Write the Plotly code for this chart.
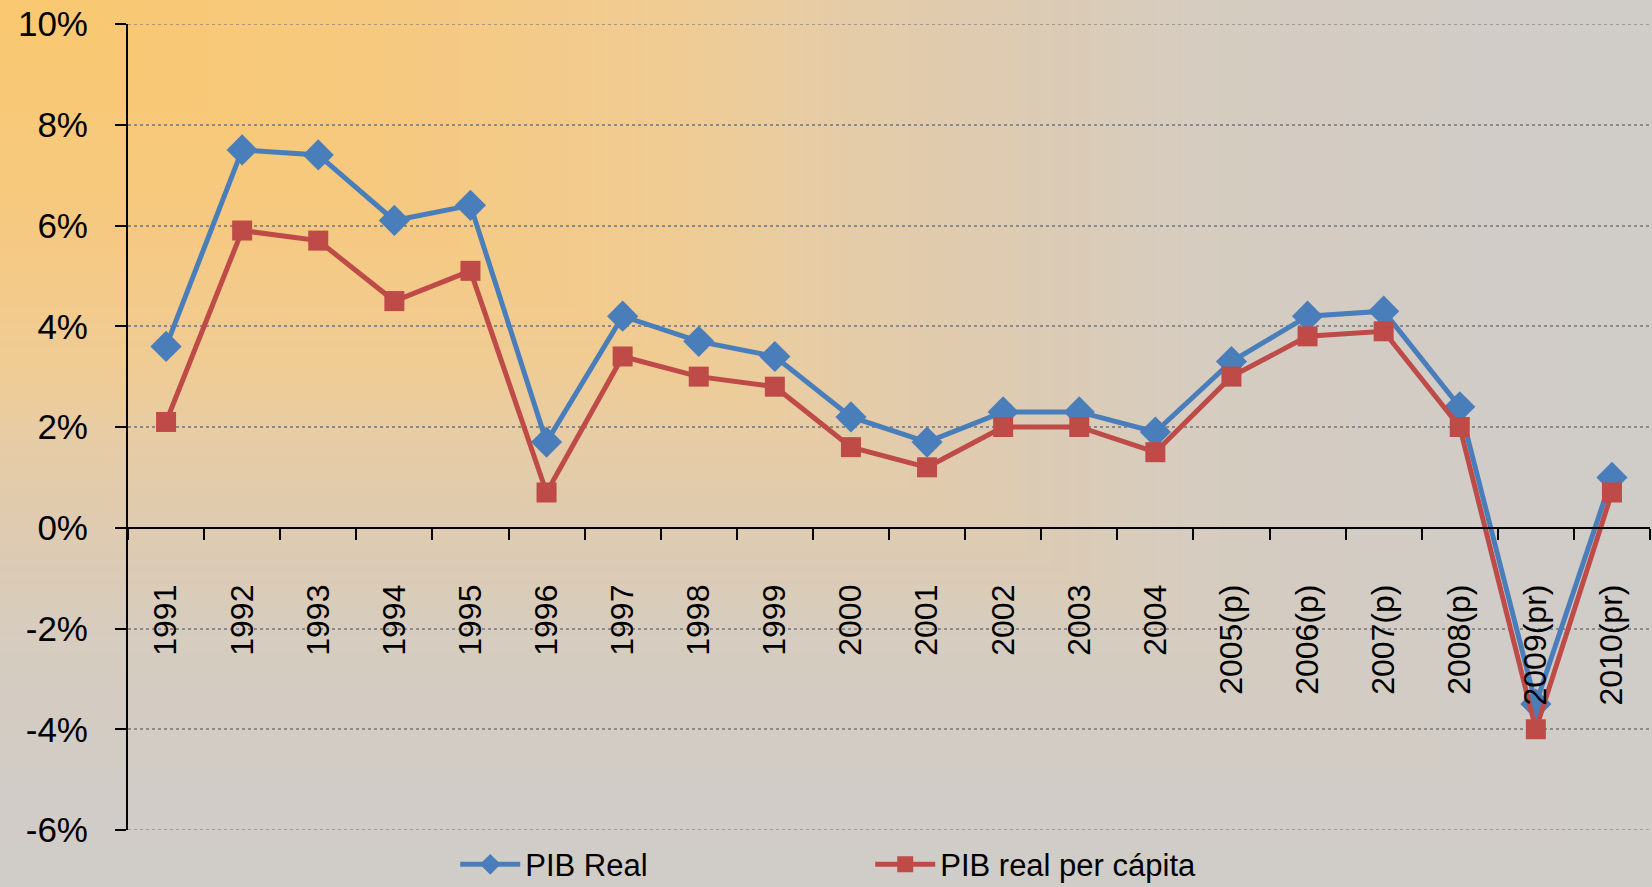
import base64
import struct
import zlib

import numpy as np
import plotly.graph_objects as go

# ---------------- data ----------------
years = ["1991", "1992", "1993", "1994", "1995", "1996", "1997", "1998", "1999",
         "2000", "2001", "2002", "2003", "2004", "2005(p)", "2006(p)", "2007(p)",
         "2008(p)", "2009(pr)", "2010(pr)"]
pib_real = [3.6, 7.5, 7.4, 6.1, 6.4, 1.7, 4.2, 3.7, 3.4, 2.2, 1.7, 2.3, 2.3, 1.9,
            3.3, 4.2, 4.3, 2.4, -3.5, 1.0]
pib_per_capita = [2.1, 5.9, 5.7, 4.5, 5.1, 0.7, 3.4, 3.0, 2.8, 1.6, 1.2, 2.0, 2.0, 1.5,
                  3.0, 3.8, 3.9, 2.0, -4.0, 0.7]
y_tick_vals = [-6, -4, -2, 0, 2, 4, 6, 8, 10]
y_tick_text = ["-6%", "-4%", "-2%", "0%", "2%", "4%", "6%", "8%", "10%"]

# ---------------- figure geometry ----------------
W, H = 1652, 887
ML, MR, MT, MB = 128, 2, 24, 57
PW, PH = W - ML - MR, H - MT - MB

# ---------------- background (corner gradient) ----------------
def make_png(arr):
    h, w, _ = arr.shape
    raw = b"".join(b"\x00" + arr[i].tobytes() for i in range(h))

    def chunk(tag, data):
        c = struct.pack(">I", len(data)) + tag + data
        return c + struct.pack(">I", zlib.crc32(tag + data) & 0xFFFFFFFF)

    return (b"\x89PNG\r\n\x1a\n"
            + chunk(b"IHDR", struct.pack(">IIBBBBB", w, h, 8, 2, 0, 0, 0))
            + chunk(b"IDAT", zlib.compress(raw, 9))
            + chunk(b"IEND", b""))

gx = np.linspace(0, 1, W)[None, :]
gy = np.linspace(0, 1, H)[:, None]
t = np.maximum(gx * np.ones_like(gy), gy * np.ones_like(gx))
stops = [0.0, 0.25, 0.42, 0.5, 0.6, 0.72, 0.9, 1.0]
cols = ["#FAC86F", "#F6C981", "#EFCC95", "#E6CCA6", "#DECBB1", "#D6CCBF", "#D1CCC7", "#D0CCC8"]
rgb = np.array([[int(c[i:i + 2], 16) for i in (1, 3, 5)] for c in cols], dtype=float)
img = np.stack([np.interp(t, stops, rgb[:, k]) for k in range(3)], axis=-1)
img = np.clip(img + 0.5, 0, 255).astype(np.uint8)
bg_uri = "data:image/png;base64," + base64.b64encode(make_png(img)).decode()

FONT = "Liberation Sans, Arial, sans-serif"
GRID = "#8A8A8A"

fig = go.Figure()
fig.add_trace(go.Scatter(
    x=years, y=pib_real, name="PIB Real", mode="lines+markers",
    line=dict(color="#4A7EBB", width=5),
    marker=dict(symbol="diamond", size=24, color="#4A7EBB"),
))
fig.add_trace(go.Scatter(
    x=years, y=pib_per_capita, name="PIB real per cápita", mode="lines+markers",
    line=dict(color="#BE4B48", width=5),
    marker=dict(symbol="square", size=20, color="#BE4B48"),
))

# edge gridlines (top and bottom) that plotly omits at the plot border
for yv in (y_tick_vals[0], y_tick_vals[-1]):
    fig.add_shape(type="line", xref="paper", yref="y", x0=0, x1=1, y0=yv, y1=yv,
                  line=dict(color=GRID, width=1.5, dash="dot"), layer="below")

fig.update_layout(
    width=W, height=H,
    margin=dict(l=ML, r=MR, t=MT, b=MB, pad=0, autoexpand=False),
    paper_bgcolor="#D0CCC8",
    plot_bgcolor="rgba(0,0,0,0)",
    font=dict(family=FONT, color="black", size=30),
    showlegend=True,
    legend=dict(
        orientation="h", x=0.215, xanchor="left", y=-0.043, yanchor="middle",
        font=dict(size=31, family=FONT), bgcolor="rgba(0,0,0,0)",
        entrywidth=340, entrywidthmode="pixels", itemwidth=60,
    ),
    images=[dict(
        source=bg_uri, xref="paper", yref="paper",
        x=-ML / PW, y=1 + MT / PH, sizex=W / PW, sizey=H / PH,
        xanchor="left", yanchor="top", sizing="stretch", layer="below",
    )],
    xaxis=dict(
        type="category", range=[-0.5, len(years) - 0.5],
        anchor="free", position=6 / 16,
        showline=True, linecolor="black", linewidth=2,
        ticks="outside", tickson="boundaries", ticklen=11, tickwidth=2, tickcolor="black",
        tickangle=-90, showgrid=False, zeroline=False,
        tickfont=dict(size=32, family=FONT), ticklabelstandoff=43,
    ),
    yaxis=dict(
        range=[-6, 10], tickvals=y_tick_vals, ticktext=y_tick_text,
        showline=True, linecolor="black", linewidth=2,
        ticks="outside", ticklen=11, tickwidth=2, tickcolor="black",
        showgrid=True, gridcolor=GRID, gridwidth=1.5, griddash="dot",
        zeroline=False,
        tickfont=dict(size=35, family=FONT), ticklabelstandoff=20,
    ),
)

fig.write_html(
    "out.html",
    config={"displayModeBar": False},
    post_script="document.body.style.margin='0';document.body.style.overflow='hidden';",
)
